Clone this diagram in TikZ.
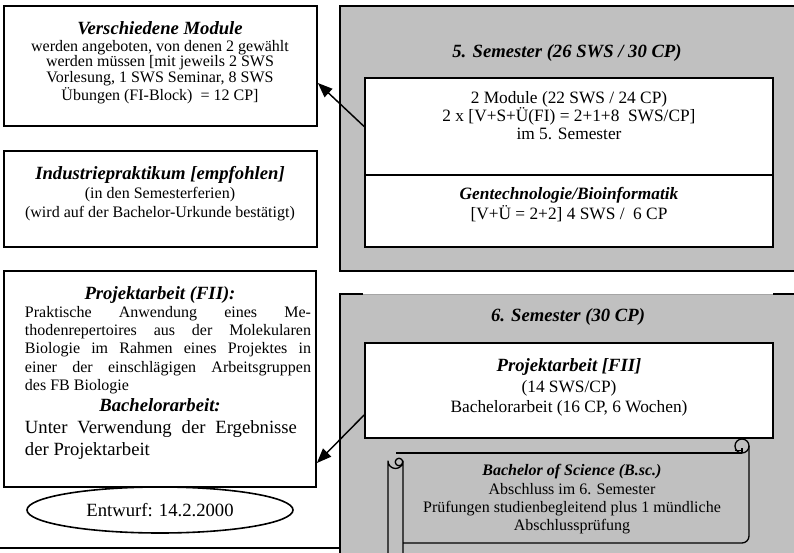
\documentclass[tikz,border=0pt]{standalone}
\usepackage{fontspec}
\setmainfont{Liberation Serif}
\usetikzlibrary{arrows.meta,fit,calc,shapes.geometric}
\definecolor{silver}{RGB}{192,192,192}
\definecolor{edgegray}{RGB}{165,165,165}

\tikzset{
  box/.style={draw, line width=1.3pt, fill=white, inner sep=0pt},
  graybox/.style={draw, line width=1.3pt, fill=silver, inner sep=0pt},
  ttl/.style={inner sep=0pt, font=\fontsize{14}{16}\selectfont\bfseries\itshape},
  txt/.style={inner sep=0pt, align=center, font=\fontsize{12}{11.7}\selectfont},
  arr/.style={line width=1.1pt, -{Triangle[length=11pt,width=8.5pt]}},
  scrollline/.style={line width=1pt, line join=round}
}

\begin{document}
\begin{tikzpicture}[x=0.75pt,y=-0.75pt]
\useasboundingbox (0,0) rectangle (794,553);
\clip (0,0) rectangle (794,553);
\fill[white] (0,0) rectangle (794,553);

% ---------- left column ----------
\node[box, fit={(4,6) (317,126)}] (modbox) {};
\node[ttl] (modttl) at (160,28) {Verschiedene Module};
\node[txt] (modtxt) at (160,72) {werden angeboten, von denen 2 gewählt\\
  werden müssen [mit jeweils 2 SWS\\ Vorlesung, 1 SWS Seminar, 8 SWS\\
  Übungen (FI-Block) \ = 12 CP]};

\node[box, fit={(4,151) (317,247)}] (indbox) {};
\node[ttl] (indttl) at (160,175) {Industriepraktikum [empfohlen]};
\node[txt, font=\fontsize{12}{14.2}\selectfont] (indtxt) at (160,204)
  {(in den Semesterferien)\\ (wird auf der Bachelor-Urkunde bestätigt)};

\node[box, fit={(4,271) (316,487)}] (projbox) {};
\node[ttl] (projttl) at (160,295) {Projektarbeit (FII):};
\node[inner sep=0pt, text width=214.5pt, align=justify,
      font=\fontsize{12}{13.7}\selectfont] (projtxt) at (168,350)
  {Praktische Anwendung eines Me-\linebreak
   thodenrepertoires aus der Molekularen\linebreak
   Biologie im Rahmen eines Projektes in\linebreak
   einer der einschlägigen Arbeitsgruppen\linebreak
   des FB Biologie};
\node[ttl] (bachttl) at (160,405) {Bachelorarbeit:};
\node[inner sep=0pt, text width=204pt, align=justify,
      font=\fontsize{14}{16.5}\selectfont] (bachtxt) at (161,440)
  {Unter Verwendung der Ergebnisse\linebreak der Projektarbeit};

\node[draw, line width=1.2pt, ellipse, minimum width=199.5pt, minimum height=34.5pt,
      inner sep=0pt, font=\fontsize{14}{16}\selectfont] (draft) at (160,510)
  {Entwurf: 14.2.2000};
\draw[line width=1.4pt] (0,548) coordinate (baseL) -- (340,548) coordinate (baseR);

% ---------- 5th semester ----------
\node[graybox, fit={(340,6) (800,271)}] (sem5) {};
\node[ttl] (sem5ttl) at (567,53) {5. Semester (26 SWS / 30 CP)};
\node[box, fit={(365,78) (773,175)}] (w5a) {};
\node[box, fit={(365,175) (773,247)}] (w5b) {};
\node[txt, font=\fontsize{13}{13.5}\selectfont] (w5atxt) at (569,116)
  {2 Module (22 SWS / 24 CP)\\ 2 x [V+S+Ü(FI) = 2+1+8 \ SWS/CP]\\ im 5. Semester};
\node[ttl, font=\fontsize{13}{15}\selectfont\bfseries\itshape] (w5bttl) at (569,195)
  {Gentechnologie/Bioinformatik};
\node[txt, font=\fontsize{13}{15}\selectfont] (w5btxt) at (569,214)
  {[V+Ü = 2+2] 4 SWS / \ 6 CP};

% ---------- 6th semester ----------
\fill[silver] (340,294) rectangle (800,560);
\draw[edgegray, line width=0.6pt] (363,294) -- (773,294);
\draw[line width=1.3pt] (363,294) -- (340,294) -- (340,560);
\draw[line width=1.3pt] (773,294) -- (800,294);
\coordinate (sem6) at (340,294);
\node[ttl] (sem6ttl) at (568,317) {6. Semester (30 CP)};
\node[box, fit={(365,343) (773,438)}] (w6) {};
\node[ttl] (w6ttl) at (569,367) {Projektarbeit [FII]};
\node[txt, font=\fontsize{13}{15}\selectfont] (w6txt) at (569,398)
  {(14 SWS/CP)\\ Bachelorarbeit (16 CP, 6 Wochen)};

% scroll with the degree
\fill[silver] (396,453) -- (742,453) -- (749,446) -- (749,543) -- (388,543) -- cycle;
\draw[scrollline] (396,453) -- (742,453);
\draw[scrollline] (742,446) circle (7);
\draw[scrollline] (735,450.5) -- (742,450.5) (742,448) -- (742,453);
\draw[scrollline] (749,446) -- (749,536) arc[start angle=0, end angle=90, radius=7]
  -- (403,543);
\draw[scrollline] (388,560) -- (388,461) arc[start angle=180, end angle=0, radius=7.5]
  -- (403,560);
\draw[scrollline] (399,462) circle (3.8);
\node[inner sep=0pt, font=\fontsize{12}{14}\selectfont\bfseries\itshape] (scrollttl)
  at (572,472) {Bachelor of Science (B.sc.)};
\node[txt, font=\fontsize{12}{13.5}\selectfont] (scrolltxt) at (572,509)
  {Abschluss im 6. Semester\\ Prüfungen studienbegleitend plus 1 mündliche\\ Abschlussprüfung};

% ---------- connectors ----------
\draw[arr] (w5a.west) -- ($(modbox.east)+(0,17)$);
\draw[arr] ($(w6.west)+(0,24.5)$) -- ($(projbox.east)+(0,84)$);
\end{tikzpicture}
\end{document}
